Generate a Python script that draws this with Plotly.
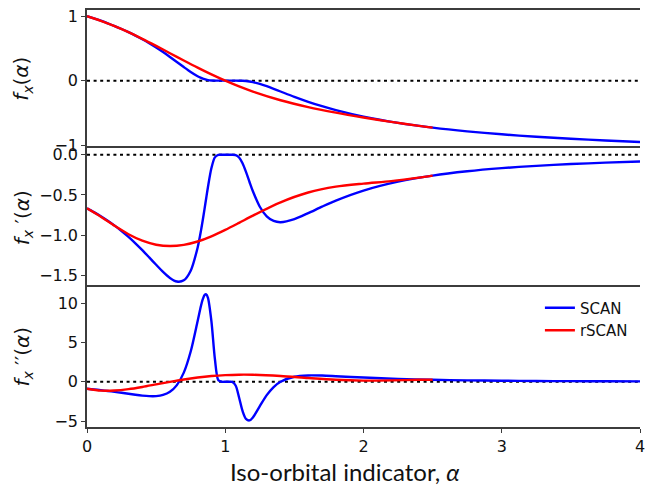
import plotly.graph_objects as go

# ---------------- data ----------------
alpha_scan = [0.0, 0.05, 0.1, 0.15, 0.2, 0.25, 0.3, 0.35, 0.4, 0.45, 0.5, 0.55, 0.6, 0.65, 0.7, 0.75, 0.8,
              0.825, 0.8375, 0.85, 0.8625, 0.875, 0.9, 0.925, 0.95, 0.975, 1.0, 1.025, 1.05, 1.075, 1.1,
              1.125, 1.15, 1.175, 1.2, 1.25, 1.3, 1.35, 1.4, 1.5, 1.6, 1.7, 1.8, 2.0, 2.25, 2.5, 2.75,
              3.0, 3.25, 3.5, 3.75, 4.0]
fx_scan = [1.0, 0.9655, 0.9286, 0.8890, 0.8464, 0.8007, 0.7513, 0.6982, 0.6410, 0.5794, 0.5132, 0.4425,
           0.3677, 0.2898, 0.2109, 0.1352, 0.0694, 0.0431, 0.0321, 0.0228, 0.0152, 0.0094, 0.0025, 0.0003,
           0.0, 0.0, 0.0, 0.0, 0.0, 0.0, -0.0004, -0.0021, -0.0060, -0.0128, -0.0227, -0.0505, -0.0862,
           -0.1261, -0.1678, -0.2504, -0.3269, -0.3954, -0.4562, -0.5572, -0.6538, -0.7274, -0.7850,
           -0.8312, -0.8690, -0.9004, -0.9270, -0.9498]
dfx_scan = [-0.667, -0.7136, -0.7646, -0.8207, -0.8821, -0.9494, -1.0227, -1.1023, -1.1876, -1.2776,
            -1.3693, -1.4576, -1.5328, -1.5777, -1.5631, -1.4428, -1.1566, -0.9382, -0.8118, -0.6767,
            -0.5376, -0.4005, -0.1648, -0.0317, -0.0008, 0.0, 0.0, 0.0, 0.0, -0.0041, -0.0333, -0.1055,
            -0.2129, -0.3353, -0.4542, -0.6470, -0.7659, -0.8236, -0.8391, -0.8011, -0.7264, -0.6456,
            -0.5702, -0.4457, -0.3348, -0.2586, -0.2051, -0.1662, -0.1373, -0.1153, -0.0981, -0.0844]
d2fx_scan = [-0.889, -0.9749, -1.0695, -1.1734, -1.2860, -1.4059, -1.5299, -1.6515, -1.7584, -1.8287,
             -1.8240, -1.6772, -1.2742, -0.4250, 1.1636, 3.8553, 7.7202, 9.7115, 10.514, 11.037, 11.147,
             10.688, 7.6969, 2.9155, 0.1897, 0.0, 0.0, 0.0, -0.0125, -0.4743, -1.9967, -3.7133, -4.7302,
             -4.9232, -4.5423, -3.1055, -1.7019, -0.6723, 0.0, 0.6409, 0.8071, 0.7906, 0.7128, 0.5349,
             0.3642, 0.2529, 0.1808, 0.1330, 0.1004, 0.0775, 0.0609, 0.0488]

alpha_rscan = [0.0, 0.1, 0.2, 0.3, 0.4, 0.5, 0.6, 0.7, 0.8, 0.9, 1.0, 1.1, 1.2, 1.4, 1.6, 1.8, 2.0, 2.2,
               2.4, 2.5]
fx_rscan = [1.0, 0.9283, 0.8456, 0.7518, 0.6486, 0.5389, 0.4259, 0.3127, 0.2025, 0.0976, 0.0, -0.0892,
            -0.1694, -0.3037, -0.4090, -0.4949, -0.5700, -0.6386, -0.7003, -0.7274]
dfx_rscan = [-0.667, -0.7704, -0.8846, -0.9887, -1.0693, -1.1193, -1.1363, -1.1216, -1.0792, -1.0149,
             -0.9353, -0.8472, -0.7570, -0.5919, -0.4697, -0.3968, -0.3584, -0.3281, -0.2848, -0.2586]
d2fx_rscan = [-0.889, -1.1299, -1.1193, -0.9402, -0.6605, -0.3352, -0.0066, 0.2942, 0.5437, 0.7320,
              0.8500, 0.9017, 0.8923, 0.7338, 0.4835, 0.2589, 0.1486, 0.1745, 0.2552, 0.2529]

zero_x = [0.0, 4.0]
zero_y = [0.0, 0.0]

x_ticks = [0, 1, 2, 3, 4]
y1_ticks = [-1, 0, 1]
y1_text = ["\u22121", "0", "1"]
y2_ticks = [-1.5, -1.0, -0.5, 0.0]
y2_text = ["\u22121.5", "\u22121.0", "\u22120.5", "0.0"]
y3_ticks = [-5, 0, 5, 10]
y3_text = ["\u22125", "0", "5", "10"]

# ---------------- figure ----------------
fig = go.Figure()
TICKFONT = dict(family="DejaVu Sans", size=16, color="#111")
AXCOL = "#3c3c3c"
LW = 1.6

D1 = [0.668, 1.0]
D2 = [0.3357, 0.668]
D3 = [0.0, 0.3357]

panels = [
    ("x", "y", fx_scan, fx_rscan),
    ("x2", "y2", dfx_scan, dfx_rscan),
    ("x3", "y3", d2fx_scan, d2fx_rscan),
]
for i, (xa, ya, ys, yr) in enumerate(panels):
    fig.add_trace(go.Scatter(x=zero_x, y=zero_y, xaxis=xa, yaxis=ya, mode="lines",
                             line=dict(color="black", width=2, dash="3px,3.6px"),
                             showlegend=False, hoverinfo="skip"))
    fig.add_trace(go.Scatter(x=alpha_scan, y=ys, xaxis=xa, yaxis=ya, mode="lines",
                             name="SCAN", line=dict(color="#0000ff", width=2.4, shape="spline", smoothing=0.8),
                             showlegend=(i == 2)))
    fig.add_trace(go.Scatter(x=alpha_rscan, y=yr, xaxis=xa, yaxis=ya, mode="lines",
                             name="rSCAN", line=dict(color="#ff0000", width=2.4, shape="spline", smoothing=0.8),
                             showlegend=(i == 2)))

common_x = dict(range=[0, 4], showline=True, linecolor=AXCOL, linewidth=LW,
                showgrid=False, zeroline=False)
common_y = dict(showline=True, linecolor=AXCOL, linewidth=LW, mirror=False, showgrid=False,
                zeroline=False, ticks="outside", ticklen=4, tickwidth=1.3, tickcolor=AXCOL,
                tickfont=TICKFONT)

fig.update_layout(
    width=645, height=488,
    margin=dict(l=87, r=0, t=10, b=61),
    paper_bgcolor="white", plot_bgcolor="white",
    xaxis=dict(**common_x, domain=[0, 1], anchor="y", side="top", mirror=False,
               showticklabels=False, ticks=""),
    yaxis=dict(**common_y, domain=D1, anchor="x", range=[-1.05, 1.095],
               tickvals=y1_ticks, ticktext=y1_text),
    xaxis2=dict(**common_x, domain=[0, 1], anchor="y2", side="top", mirror=False, matches="x",
                showticklabels=False, ticks=""),
    yaxis2=dict(**common_y, domain=D2, anchor="x2", range=[-1.646, 0.079],
                tickvals=y2_ticks, ticktext=y2_text),
    xaxis3=dict(**common_x, domain=[0, 1], anchor="y3", mirror=True, matches="x", ticks="outside",
                ticklen=4, tickwidth=1.3, tickcolor=AXCOL, tickvals=x_ticks, tickfont=TICKFONT,
                ticklabeloverflow="allow"),
    yaxis3=dict(**common_y, domain=D3, anchor="x3", range=[-5.76, 12.07],
                tickvals=y3_ticks, ticktext=y3_text),
    legend=dict(x=0.819, y=0.325, xanchor="left", yanchor="top", bgcolor="rgba(0,0,0,0)",
                font=dict(family="DejaVu Sans", size=15, color="#111"), tracegroupgap=0),
    showlegend=True,
)

ytitles = [
    ("<i>f<sub>x</sub></i>(<i>\u03b1</i>)", sum(D1) / 2),
    ("<i>f<sub>x</sub></i> \u2032(<i>\u03b1</i>)", sum(D2) / 2),
    ("<i>f<sub>x</sub></i> \u2032\u2032(<i>\u03b1</i>)", sum(D3) / 2),
]
for txt, yc in ytitles:
    fig.add_annotation(text=txt, xref="paper", yref="paper", x=-0.1165, y=yc, textangle=-90,
                       showarrow=False, xanchor="center", yanchor="middle",
                       font=dict(family="DejaVu Sans", size=20, color="#111"))

fig.add_annotation(text="Iso-orbital indicator, <i>\u03b1</i>", xref="paper", yref="paper",
                   x=0.466, y=-0.107, showarrow=False, xanchor="center", yanchor="middle",
                   font=dict(family="Lato", size=24, color="#111"))

fig.write_html("out.html")
